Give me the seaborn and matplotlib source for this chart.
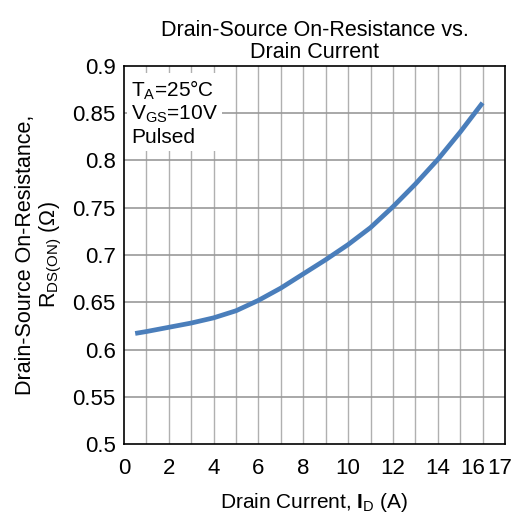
import numpy as np
import pandas as pd
import matplotlib
matplotlib.use("Agg")
import matplotlib.pyplot as plt
import matplotlib.transforms as mtransforms
import seaborn as sns

# values
drain_current = [0.5, 1, 2, 3, 4, 5, 6, 7, 8, 9, 10, 11, 12, 13, 14, 15, 16]
rds_on = [0.617, 0.619, 0.6235, 0.628, 0.6335, 0.641, 0.652, 0.665, 0.680,
          0.695, 0.711, 0.729, 0.751, 0.775, 0.801, 0.830, 0.861]

x_ticks = [0, 2, 4, 6, 8, 10, 12, 14, 16, 17]
y_ticks = [0.5, 0.55, 0.6, 0.65, 0.7, 0.75, 0.8, 0.85, 0.9]

df = pd.DataFrame({"I_D": drain_current, "R": rds_on})

sns.set_style("white", {"text.color": "black", "axes.labelcolor": "black",
                        "xtick.color": "black", "ytick.color": "black"})
plt.rcParams["font.family"] = ["Liberation Sans", "DejaVu Sans"]
plt.rcParams["mathtext.fontset"] = "custom"
plt.rcParams["mathtext.rm"] = "Liberation Sans"
plt.rcParams["mathtext.it"] = "Liberation Sans"
plt.rcParams["mathtext.bf"] = "Liberation Sans:bold"

fig = plt.figure(figsize=(5.24, 5.22), dpi=100)
ax = fig.add_axes([0.2366, 0.1494, 0.7271, 0.7242])

# grid lines every 1 A and every 0.05 ohm
for v in range(1, 17):
    ax.axvline(v, color="#b0b0b0", lw=1, zorder=0)
for v in y_ticks[1:-1]:
    ax.axhline(v, color="#999999", lw=1.2, zorder=0)

sns.lineplot(data=df, x="I_D", y="R", ax=ax, color="#4a7ebb", lw=3.4,
             zorder=3, solid_joinstyle="round", solid_capstyle="butt")

ax.set_xlim(0, 17)
ax.set_ylim(0.5, 0.9)
ax.set_xticks(x_ticks)
ax.set_xticklabels([str(t) for t in x_ticks])
ax.set_yticks(y_ticks)
ax.set_yticklabels(["0.5", "0.55", "0.6", "0.65", "0.7", "0.75", "0.8", "0.85", "0.9"])
ax.tick_params(labelsize=16, length=0, labelcolor="black")
ax.tick_params(axis="x", pad=10)
ax.tick_params(axis="y", pad=6)

# squeeze the "16" and "17" labels together like the original
labels = ax.get_xticklabels()
labels[-2].set_transform(labels[-2].get_transform() +
                         mtransforms.ScaledTranslation(-7 / 72, 0, fig.dpi_scale_trans))
labels[-1].set_transform(labels[-1].get_transform() +
                         mtransforms.ScaledTranslation(-4 / 72, 0, fig.dpi_scale_trans))

for s in ax.spines.values():
    s.set_color("black")
    s.set_linewidth(1.2)

ax.set_title("Drain-Source On-Resistance vs.\nDrain Current", fontsize=15.5, pad=6,
             linespacing=1.05, color="black")
ax.set_xlabel(r"Drain Current, $\mathbf{I}_{\mathrm{D}}$ (A)", fontsize=15, labelpad=9)
ax.set_ylabel("Drain-Source On-Resistance,\n" + r"R$_{\mathrm{DS(ON)}}$ ($\Omega$)",
              fontsize=15.5, labelpad=6, linespacing=1.1)

ax.text(0.32, 0.887, "T$_{\\mathrm{A}}$=25°C\nV$_{\\mathrm{GS}}$=10V\nPulsed",
        fontsize=15, va="top", ha="left", linespacing=1.15, zorder=4, color="black",
        bbox=dict(facecolor="white", edgecolor="none", pad=3))

fig.savefig("out.png", dpi=100)
